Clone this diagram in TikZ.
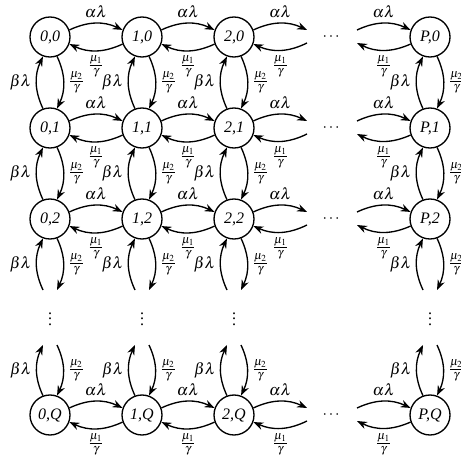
\documentclass[tikz,border=0pt]{standalone}
\usepackage{amsmath}
\usepackage{mathptmx}
\usepackage[no-math]{fontspec}
\setmainfont{Liberation Serif}
\usetikzlibrary{arrows.meta}
\tikzset{state/.style={draw,circle,line width=1pt,minimum size=30pt,inner sep=0pt,font=\fontsize{12}{14}\selectfont\itshape},
arc/.style={-Stealth,line width=1pt}}

\begin{document}
\begin{tikzpicture}[x=0.75pt,y=-0.75pt,font=\fontsize{12}{14}\selectfont]
\useasboundingbox (0,0) rectangle (460,463);
% states
\foreach \i/\x/\c in {0/50/0,1/142/1,2/234/2,3/430/P}
 \foreach \j/\y/\r in {0/37/0,1/128/1,2/219/2,3/415/Q}
  \node[state](n\i\j) at (\x,\y) {\c,\r};
% horizontal moves
\foreach \j/\y in {0/37,1/128,2/219,3/415}{
 \foreach \i/\k in {0/1,1/2}{
  \draw[arc](n\i\j.20) to[bend left=25] node[above]{$\alpha\lambda$} (n\k\j.160);
  \draw[arc](n\k\j.200) to[bend left=25] node[below]{$\frac{\mu_1}{\gamma}$} (n\i\j.-20);
 }
 \coordinate (a\j) at (307,\y-7);
 \coordinate (b\j) at (307,\y+6);
 \coordinate (c\j) at (357,\y-7);
 \coordinate (d\j) at (357,\y+6);
 \node (h\j) at (332,\y) {$\cdots$};
 \draw[arc](n2\j.20) to[bend left=25] node[above]{$\alpha\lambda$} (a\j);
 \draw[arc](b\j) to[bend left=25] node[below]{$\frac{\mu_1}{\gamma}$} (n2\j.-20);
 \draw[arc](c\j) to[bend left=25] node[above]{$\alpha\lambda$} (n3\j.160);
 \draw[arc](n3\j.200) to[bend left=25] node[below]{$\frac{\mu_1}{\gamma}$} (d\j);
}
% vertical moves
\foreach \i/\x in {0/50,1/142,2/234,3/430}{
 \foreach \j/\k in {0/1,1/2}{
  \draw[arc](n\i\k.110) to[bend left=25] node[left]{$\beta\lambda$} (n\i\j.250);
  \draw[arc](n\i\j.-70) to[bend left=25] node[right]{$\frac{\mu_2}{\gamma}$} (n\i\k.70);
 }
 \coordinate (u\i) at (\x-7,290);
 \coordinate (v\i) at (\x+7,290);
 \coordinate (w\i) at (\x-7,345);
 \coordinate (z\i) at (\x+7,345);
 \node (vd\i) at (\x,315) {$\vdots$};
 \draw[arc](u\i) to[bend left=25] node[left]{$\beta\lambda$} (n\i2.250);
 \draw[arc](n\i2.-70) to[bend left=25] node[right]{$\frac{\mu_2}{\gamma}$} (v\i);
 \draw[arc](n\i3.110) to[bend left=25] node[left]{$\beta\lambda$} (w\i);
 \draw[arc](z\i) to[bend left=25] node[right]{$\frac{\mu_2}{\gamma}$} (n\i3.70);
}
\end{tikzpicture}
\end{document}
